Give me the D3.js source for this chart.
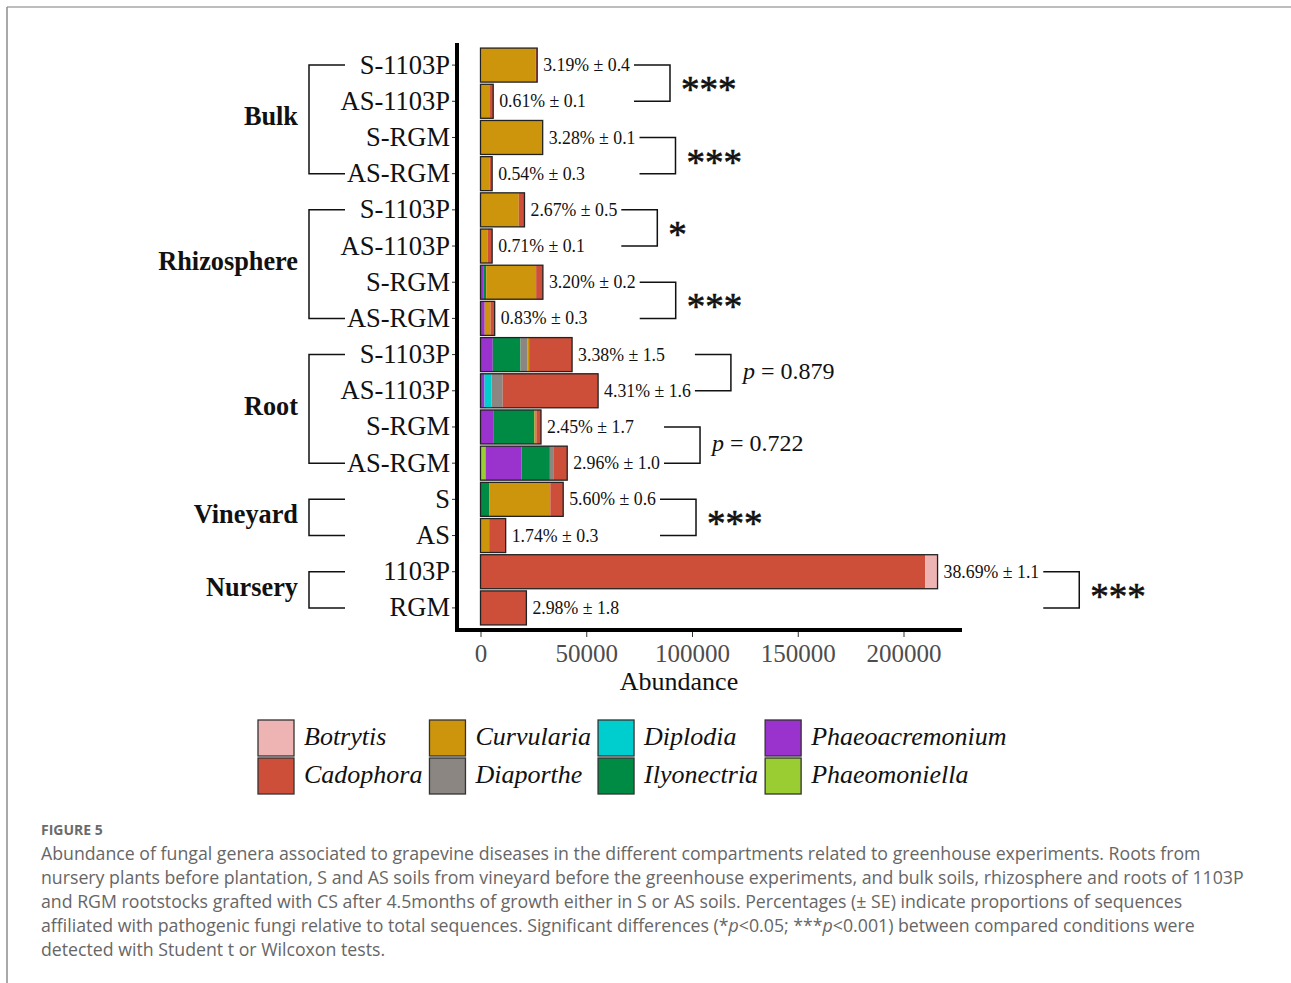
<!DOCTYPE html>
<html>
<head>
<meta charset="utf-8">
<script src="https://cdn.jsdelivr.net/npm/d3@7/dist/d3.min.js"></script>
<style>
body { margin: 0; background: #fff; }
svg text { font-family: "Liberation Serif", "Times New Roman", serif; }
</style>
</head>
<body>
<div id="chart"></div>
<script>
// rows, top to bottom
var ROW_LABELS = ["S-1103P", "AS-1103P", "S-RGM", "AS-RGM",
                  "S-1103P", "AS-1103P", "S-RGM", "AS-RGM",
                  "S-1103P", "AS-1103P", "S-RGM", "AS-RGM",
                  "S", "AS", "1103P", "RGM"];
var GROUP_NAMES = ["Bulk", "Rhizosphere", "Root", "Vineyard", "Nursery"];
var GROUP_FIRST = [0, 4, 8, 12, 14];
var GROUP_LAST = [3, 7, 11, 13, 15];

// genera (legend order) and colours
var GENERA = ["Botrytis", "Cadophora", "Curvularia", "Diaporthe", "Diplodia",
              "Ilyonectria", "Phaeoacremonium", "Phaeomoniella"];
var COLORS = ["#EEB4B4", "#CD4F39", "#CD950C", "#8B8682", "#00CDCD",
              "#008B45", "#9A32CD", "#9ACD32"];

// abundance per genus, one value per row
var botrytis        = [0, 0, 0, 0, 0, 0, 0, 0, 0, 0, 0, 0, 0, 0, 5900, 0];
var cadophora       = [700, 1500, 0, 1100, 2700, 2200, 3200, 2000, 20300, 45100, 2200, 6300, 6100, 7800, 210200, 21700];
var curvularia      = [25800, 4500, 29200, 4400, 18100, 3300, 23600, 2700, 900, 0, 900, 0, 28900, 4100, 0, 0];
var diaporthe       = [0, 0, 0, 0, 0, 0, 0, 0, 3200, 5300, 0, 1900, 0, 0, 0, 0];
var diplodia        = [0, 0, 0, 0, 0, 0, 0, 0, 0, 3300, 0, 0, 0, 0, 0, 0];
var ilyonectria     = [0, 0, 0, 0, 0, 0, 1400, 0, 13100, 0, 19200, 13400, 4100, 0, 0, 0];
var phaeoacremonium = [300, 0, 200, 0, 0, 0, 1300, 2000, 5800, 1900, 6300, 17000, 0, 0, 0, 0];
var phaeomoniella   = [0, 0, 0, 0, 0, 0, 0, 0, 0, 0, 0, 2400, 0, 0, 0, 0];

var PCT_LABELS = ["3.19% \u00b1 0.4", "0.61% \u00b1 0.1", "3.28% \u00b1 0.1", "0.54% \u00b1 0.3",
                  "2.67% \u00b1 0.5", "0.71% \u00b1 0.1", "3.20% \u00b1 0.2", "0.83% \u00b1 0.3",
                  "3.38% \u00b1 1.5", "4.31% \u00b1 1.6", "2.45% \u00b1 1.7", "2.96% \u00b1 1.0",
                  "5.60% \u00b1 0.6", "1.74% \u00b1 0.3", "38.69% \u00b1 1.1", "2.98% \u00b1 1.8"];

// compared pairs (first row index of each pair) and their result
var PAIR_FIRST = [0, 2, 4, 6, 8, 10, 12, 14];
var PAIR_SIG = ["***", "***", "*", "***", "p = 0.879", "p = 0.722", "***", "***"];

var X_TICKS = [0, 50000, 100000, 150000, 200000];

var CAPTION_LINES = [
  "Abundance of fungal genera associated to grapevine diseases in the different compartments related to greenhouse experiments. Roots from",
  "nursery plants before plantation, S and AS soils from vineyard before the greenhouse experiments, and bulk soils, rhizosphere and roots of 1103P",
  "and RGM rootstocks grafted with CS after 4.5months of growth either in S or AS soils. Percentages (\u00b1 SE) indicate proportions of sequences",
  "affiliated with pathogenic fungi relative to total sequences. Significant differences (*|p|<0.05; ***|p|<0.001) between compared conditions were",
  "detected with Student t or Wilcoxon tests."
];

var seriesByGenus = {
  "Botrytis": botrytis, "Cadophora": cadophora, "Curvularia": curvularia,
  "Diaporthe": diaporthe, "Diplodia": diplodia, "Ilyonectria": ilyonectria,
  "Phaeoacremonium": phaeoacremonium, "Phaeomoniella": phaeomoniella
};
var colorOf = d3.scaleOrdinal().domain(GENERA).range(COLORS);

var W = 1291, H = 983;
var svg = d3.select("#chart").append("svg")
    .attr("width", W).attr("height", H);

svg.append("rect").attr("width", W).attr("height", H).attr("fill", "#fff");

// thin frame of the page
svg.append("line").attr("x1", 7).attr("x2", W).attr("y1", 7).attr("y2", 7)
   .attr("stroke", "#bdbdbd").attr("stroke-width", 2);
svg.append("line").attr("x1", 7).attr("x2", 7).attr("y1", 7).attr("y2", H)
   .attr("stroke", "#8c8c8c").attr("stroke-width", 1.5);

// scales
var x = d3.scaleLinear().domain([0, 200000]).range([480.5, 903.5]);
var y = d3.scaleBand().domain(d3.range(ROW_LABELS.length))
    .range([47, 626]).paddingInner(0.06).paddingOuter(0.03);
var yc = function(i) { return y(i) + y.bandwidth() / 2; };

// stacked data, Phaeomoniella nearest the axis, Botrytis at the end
var table = ROW_LABELS.map(function(r, i) {
    var o = { row: i };
    GENERA.forEach(function(g) { o[g] = seriesByGenus[g][i]; });
    return o;
});
var stackKeys = GENERA.slice().reverse();
var stacked = d3.stack().keys(stackKeys)(table);

var bars = svg.append("g");
stacked.forEach(function(layer) {
    bars.selectAll(null).data(layer).enter().append("rect")
        .attr("x", function(d) { return x(d[0]); })
        .attr("width", function(d) { return x(d[1]) - x(d[0]); })
        .attr("y", function(d) { return y(d.data.row); })
        .attr("height", y.bandwidth())
        .attr("fill", colorOf(layer.key));
});

// outline around each whole bar
var totals = table.map(function(d) {
    return d3.sum(GENERA, function(g) { return d[g]; });
});
bars.selectAll(null).data(totals).enter().append("rect")
    .attr("x", x(0))
    .attr("width", function(d) { return x(d) - x(0); })
    .attr("y", function(d, i) { return y(i); })
    .attr("height", y.bandwidth())
    .attr("fill", "none")
    .attr("stroke", "#222")
    .attr("stroke-width", 1.3);

// percentage labels
var pctText = svg.append("g").selectAll(null).data(PCT_LABELS).enter().append("text")
    .attr("x", function(d, i) { return x(totals[i]) + 6; })
    .attr("y", function(d, i) { return yc(i) + 2; })
    .attr("dominant-baseline", "middle")
    .attr("font-size", 17.8)
    .attr("fill", "#111")
    .text(function(d) { return d; });

var labelEnd = [];
pctText.each(function(d, i) {
    labelEnd[i] = x(totals[i]) + 6 + this.getComputedTextLength();
});

// comparison brackets on the right
var brk = svg.append("g");
PAIR_FIRST.forEach(function(a, k) {
    var b = a + 1;
    var x0 = Math.max(labelEnd[a], labelEnd[b]) + 4;
    var x1 = x0 + 36;
    brk.append("path")
       .attr("d", "M" + x0 + "," + yc(a) + "H" + x1 + "V" + yc(b) + "H" + x0)
       .attr("fill", "none").attr("stroke", "#111").attr("stroke-width", 1.5);
    var mid = (yc(a) + yc(b)) / 2;
    var sig = PAIR_SIG[k];
    if (sig.charAt(0) === "p") {
        var t = brk.append("text").attr("x", x1 + 12).attr("y", mid)
           .attr("dominant-baseline", "middle").attr("font-size", 24).attr("fill", "#111");
        t.append("tspan").attr("font-style", "italic").text("p");
        t.append("tspan").text(sig.slice(1));
    } else {
        brk.append("text").attr("x", x1 + 11).attr("y", mid + 19)
           .attr("font-size", 37).attr("fill", "#111")
           .attr("stroke", "#111").attr("stroke-width", 0.6)
           .text(sig);
    }
});

// axes
var yAxis = d3.axisLeft(y).tickSize(5).tickPadding(2)
    .tickFormat(function(i) { return ROW_LABELS[i]; });
var gy = svg.append("g").attr("transform", "translate(457,0)").call(yAxis);
gy.select(".domain").remove();
gy.selectAll(".tick line").attr("stroke", "#333");
gy.selectAll(".tick text").attr("font-size", 26.5)
  .attr("font-family", "Liberation Serif, serif").attr("fill", "#111");

var xAxis = d3.axisBottom(x).tickValues(X_TICKS).tickSize(5).tickPadding(7)
    .tickFormat(d3.format("d"));
var gx = svg.append("g").attr("transform", "translate(0,632)").call(xAxis);
gx.select(".domain").remove();
gx.selectAll(".tick line").attr("stroke", "#333");
gx.selectAll(".tick text").attr("font-size", 25)
  .attr("font-family", "Liberation Serif, serif").attr("fill", "#4d4d4d");

// thick axis lines
svg.append("line").attr("x1", 457).attr("x2", 457).attr("y1", 43).attr("y2", 632)
   .attr("stroke", "#000").attr("stroke-width", 4);
svg.append("line").attr("x1", 455).attr("x2", 962).attr("y1", 630).attr("y2", 630)
   .attr("stroke", "#000").attr("stroke-width", 4);

svg.append("text").attr("x", 679).attr("y", 690)
   .attr("text-anchor", "middle").attr("font-size", 26).attr("fill", "#111")
   .text("Abundance");

// group labels and left brackets
var grp = svg.append("g");
GROUP_NAMES.forEach(function(name, k) {
    var ya = yc(GROUP_FIRST[k]), yb = yc(GROUP_LAST[k]);
    grp.append("path")
       .attr("d", "M345," + ya + "H309V" + yb + "H345")
       .attr("fill", "none").attr("stroke", "#111").attr("stroke-width", 1.5);
    grp.append("text").attr("x", 298).attr("y", (ya + yb) / 2)
       .attr("text-anchor", "end").attr("dominant-baseline", "middle")
       .attr("font-size", 26.3).attr("font-weight", "bold").attr("fill", "#111")
       .text(name);
});

// legend, two rows, filled column by column
var leg = svg.append("g");
var keyX = 258, rowY = [720, 758], keySize = 36;
for (var c = 0; c < GENERA.length / 2; c++) {
    var maxW = 0;
    for (var r = 0; r < 2; r++) {
        var g = GENERA[c * 2 + r];
        leg.append("rect").attr("x", keyX).attr("y", rowY[r])
           .attr("width", keySize).attr("height", keySize)
           .attr("fill", colorOf(g)).attr("stroke", "#333").attr("stroke-width", 1.3);
        var t = leg.append("text").attr("x", keyX + 46).attr("y", rowY[r] + keySize / 2 + 1)
           .attr("dominant-baseline", "middle").attr("font-size", 26)
           .attr("font-style", "italic").attr("fill", "#111").text(g);
        maxW = Math.max(maxW, t.node().getComputedTextLength());
    }
    keyX = keyX + 46 + maxW + 7;
}

// caption, font size fitted so the first line spans the same width as the figure text
var cap = svg.append("g");
cap.append("text").attr("x", 41).attr("y", 835)
   .attr("font-size", 14).attr("font-weight", "bold").attr("fill", "#6b6b6b")
   .style("font-family", "'Open Sans', sans-serif")
   .text("FIGURE 5");
var capLines = [];
CAPTION_LINES.forEach(function(line, i) {
    var t = cap.append("text").attr("x", 41).attr("y", 860 + i * 24)
       .attr("font-size", 16).attr("fill", "#666")
       .style("font-family", "'Open Sans', sans-serif");
    line.split("|").forEach(function(part, j) {
        t.append("tspan").attr("font-style", j % 2 ? "italic" : "normal").text(part);
    });
    capLines.push(t);
});
var fitSize = 16 * 1160 / capLines[0].node().getComputedTextLength();
capLines.forEach(function(t) { t.attr("font-size", fitSize); });
</script>
</body>
</html>
